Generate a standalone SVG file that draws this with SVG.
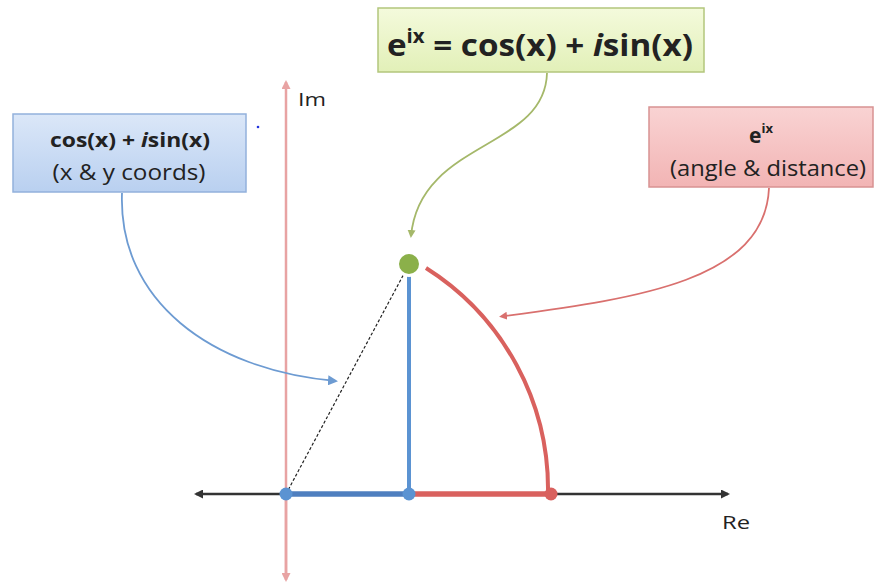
<svg xmlns="http://www.w3.org/2000/svg" width="880" height="585" viewBox="0 0 880 585">
<defs>
<linearGradient id="gG" x1="0" y1="0" x2="0" y2="1"><stop offset="0" stop-color="#f4fadc"/><stop offset="1" stop-color="#e2f0b8"/></linearGradient>
<linearGradient id="gB" x1="0" y1="0" x2="0" y2="1"><stop offset="0" stop-color="#dbe7f8"/><stop offset="1" stop-color="#b9d0f0"/></linearGradient>
<linearGradient id="gR" x1="0" y1="0" x2="0" y2="1"><stop offset="0" stop-color="#f9d3d3"/><stop offset="1" stop-color="#f2b4b4"/></linearGradient>
<marker id="aG" markerWidth="8" markerHeight="8" refX="6" refY="4" orient="auto" markerUnits="userSpaceOnUse"><path d="M0,0 L8,4 L0,8 z" fill="#a5b86a"/></marker>
<marker id="aB" markerWidth="10" markerHeight="10" refX="8" refY="5" orient="auto" markerUnits="userSpaceOnUse"><path d="M0,0 L10,5 L0,10 z" fill="#6d9bd2"/></marker>
<marker id="aR" markerWidth="8" markerHeight="8" refX="2" refY="4" orient="auto" markerUnits="userSpaceOnUse"><path d="M0,0 L8,4 L0,8 z" fill="#d9706e"/></marker>
<marker id="axK" markerWidth="9" markerHeight="9" refX="7" refY="4.5" orient="auto" markerUnits="userSpaceOnUse"><path d="M0,0 L9,4.5 L0,9 z" fill="#333"/></marker>
<marker id="axP" markerWidth="9" markerHeight="9" refX="7" refY="4.5" orient="auto" markerUnits="userSpaceOnUse"><path d="M0,0 L9,4.5 L0,9 z" fill="#e8a3a3"/></marker>
</defs>
<style>
text{font-family:"Open Sans","Liberation Sans",sans-serif;fill:#222}
.b{font-weight:bold}
.box{stroke-width:1.5}
.conn{fill:none;stroke-width:1.8}
</style>
<rect width="880" height="585" fill="#fff"/>

<g id="axes">
<line x1="286" y1="578" x2="286" y2="82" stroke="#e8a3a3" stroke-width="2.5" marker-end="url(#axP)"/>
<line x1="286" y1="494" x2="286" y2="580" stroke="#e8a3a3" stroke-width="2.5" marker-end="url(#axP)"/>
<line x1="290" y1="494" x2="728" y2="494" stroke="#333" stroke-width="2.5" marker-end="url(#axK)"/>
<line x1="290" y1="494" x2="196" y2="494" stroke="#333" stroke-width="2.5" marker-end="url(#axK)"/>
<text x="298" y="106" font-size="19" textLength="28" lengthAdjust="spacingAndGlyphs">Im</text>
<text x="722" y="529" font-size="19" textLength="28" lengthAdjust="spacingAndGlyphs">Re</text>
</g>

<g id="figure">
<line x1="286" y1="494" x2="406" y2="270" stroke="#222" stroke-width="1.2" stroke-dasharray="3,2"/>
<path d="M 426 268 A 262 262 0 0 1 548 494" fill="none" stroke="#d9615e" stroke-width="4"/>
<line x1="409" y1="494" x2="551" y2="494" stroke="#d9615e" stroke-width="5.5"/>
<line x1="286" y1="494" x2="409" y2="494" stroke="#4f7fbf" stroke-width="5.5"/>
<line x1="409" y1="270" x2="409" y2="494" stroke="#5b93d2" stroke-width="4"/>
<circle cx="286" cy="494" r="6.5" fill="#5b93d2"/>
<circle cx="409" cy="494" r="6.5" fill="#5b93d2"/>
<circle cx="551" cy="494" r="6.5" fill="#d9615e"/>
<circle cx="409" cy="264" r="11.5" fill="#8bb04a" stroke="#fff" stroke-width="3"/>
<circle cx="258" cy="127" r="1.3" fill="#2233dd"/>
</g>

<g id="connectors">
<path class="conn" stroke="#a5b86a" d="M 547 73 C 545 150, 420 140, 411 236" marker-end="url(#aG)"/>
<path class="conn" stroke="#6d9bd2" d="M 122 193 C 118 300, 210 370, 336 381" marker-end="url(#aB)"/>
<path class="conn" stroke="#d9706e" d="M 769 188 C 765 280, 640 298, 505 316" marker-end="url(#aR)"/>
</g>

<g id="node-euler">
<rect class="box" x="378" y="8" width="326" height="64" fill="url(#gG)" stroke="#b3c67c"/>
<text x="540" y="56" font-size="31" class="b" text-anchor="middle" textLength="306" lengthAdjust="spacingAndGlyphs">e<tspan font-size="19" dy="-13">ix</tspan><tspan dy="13"> = cos(x) + </tspan><tspan font-style="italic">i</tspan>sin(x)</text>
</g>

<g id="node-coords">
<rect class="box" x="13" y="114" width="233" height="78" fill="url(#gB)" stroke="#93b1dc"/>
<text x="130" y="147" font-size="20" class="b" text-anchor="middle" textLength="160" lengthAdjust="spacingAndGlyphs">cos(x) + <tspan font-style="italic">i</tspan>sin(x)</text>
<text x="129" y="180" font-size="21" text-anchor="middle" textLength="153" lengthAdjust="spacingAndGlyphs">(x &amp; y coords)</text>
</g>

<g id="node-polar">
<rect class="box" x="649" y="107" width="224" height="80" fill="url(#gR)" stroke="#d89292"/>
<text x="761" y="143" font-size="21" class="b" text-anchor="middle">e<tspan font-size="13" dy="-10">ix</tspan></text>
<text x="768" y="176" font-size="21" text-anchor="middle" textLength="196" lengthAdjust="spacingAndGlyphs">(angle &amp; distance)</text>
</g>
</svg>
